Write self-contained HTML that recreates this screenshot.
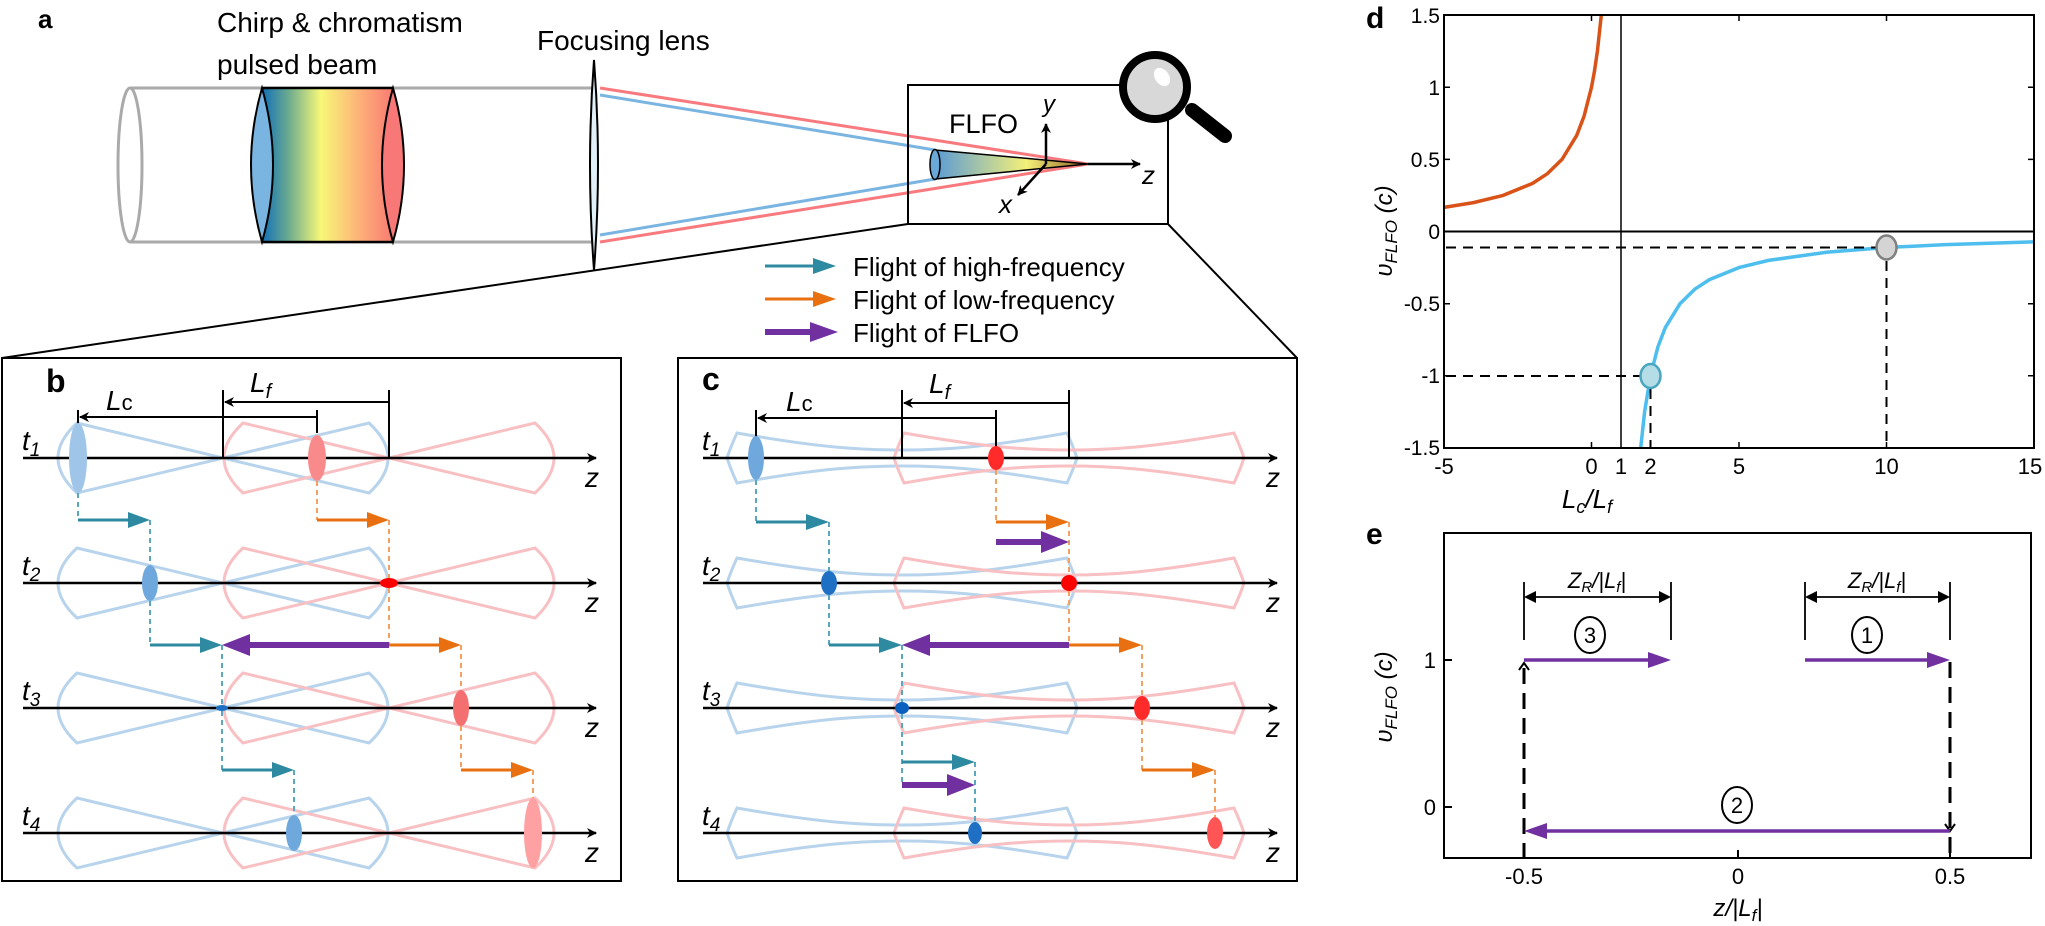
<!DOCTYPE html>
<html><head><meta charset="utf-8"><style>
html,body{margin:0;padding:0;background:#fff}
svg{display:block}
text{font-family:"Liberation Sans",sans-serif}
</style></head><body>
<svg width="2045" height="926" viewBox="0 0 2045 926" xmlns="http://www.w3.org/2000/svg">
<defs>
<linearGradient id="rb" x1="0" x2="1" y1="0" y2="0">
<stop offset="0" stop-color="#1070b8"/><stop offset="0.2" stop-color="#6aaa90"/><stop offset="0.45" stop-color="#f8f878"/><stop offset="0.75" stop-color="#fcb078"/><stop offset="1" stop-color="#fa7a72"/></linearGradient>
<linearGradient id="cone" x1="0" x2="1"><stop offset="0" stop-color="#5b9bd5"/><stop offset="0.6" stop-color="#f4f078"/><stop offset="1" stop-color="#8a5a20"/></linearGradient>
<marker id="mk" markerWidth="10" markerHeight="10" refX="9" refY="5" orient="auto" markerUnits="userSpaceOnUse"><path d="M0,0 L10,5 L0,10 L3,5Z" fill="#000"/></marker>
<g id="bb"><path d="M-146,-35 L0,0 L146,-35 Q184,0 146,35 L0,0 L-146,35 Q-184,0 -146,-35Z" fill="none" stroke-width="3"/></g>
<g id="cb"><path d="M-165,-25 C-80,-10 -40,-8 0,-8 C40,-8 80,-10 165,-25 Q171,-12 175,0 Q171,12 165,25 C80,10 40,8 0,8 C-40,8 -80,10 -165,25 Q-171,12 -175,0 Q-171,-12 -165,-25Z" fill="none" stroke-width="3"/></g>
</defs>

<!-- PANEL A -->
<text x="38" y="28" font-size="26" font-weight="bold">a</text>
<text x="217" y="32" font-size="28">Chirp &amp; chromatism</text>
<text x="217" y="74" font-size="28">pulsed beam</text>
<text x="537" y="50" font-size="28">Focusing lens</text>
<line x1="130" y1="88" x2="594" y2="88" stroke="#aaa" stroke-width="3"/>
<line x1="130" y1="242" x2="594" y2="242" stroke="#aaa" stroke-width="3"/>
<ellipse cx="130" cy="165" rx="12" ry="77" fill="none" stroke="#aaa" stroke-width="3"/>
<rect x="262" y="88" width="131" height="154" fill="url(#rb)"/>
<path d="M262,88 Q240,165 262,242 Q284,165 262,88Z" fill="#7ab4e0" stroke="#000" stroke-width="2"/>
<path d="M393,88 Q415,165 393,242 Q371,165 393,88Z" fill="#f87878" stroke="#000" stroke-width="2"/>
<line x1="262" y1="88" x2="393" y2="88" stroke="#000" stroke-width="2.5"/>
<line x1="262" y1="242" x2="393" y2="242" stroke="#000" stroke-width="2.5"/>
<path d="M594,60 Q602,165 594,270 Q586,165 594,60Z" fill="#dff0f8" stroke="#000" stroke-width="2"/>
<line x1="600" y1="88" x2="1088" y2="164" stroke="#f87a7e" stroke-width="3"/>
<line x1="600" y1="242" x2="1088" y2="164" stroke="#f87a7e" stroke-width="3"/>
<line x1="600" y1="95" x2="935" y2="150" stroke="#7ab4e0" stroke-width="3"/>
<line x1="600" y1="235" x2="935" y2="179" stroke="#7ab4e0" stroke-width="3"/>
<rect x="908" y="85" width="260" height="139" fill="none" stroke="#000" stroke-width="2"/>
<path d="M935,150 L1088,164 L935,179Z" fill="url(#cone)" stroke="#000" stroke-width="1.5"/>
<ellipse cx="935" cy="164.5" rx="5" ry="15" fill="#6aa8d8" stroke="#000" stroke-width="1.5"/>
<text x="949" y="133" font-size="27">FLFO</text>
<line x1="1046" y1="164" x2="1046" y2="124" stroke="#000" stroke-width="2.5" marker-end="url(#mk)"/>
<text x="1043" y="112" font-size="24" font-style="italic">y</text>
<line x1="1088" y1="164" x2="1140" y2="164" stroke="#000" stroke-width="2.5" marker-end="url(#mk)"/>
<text x="1142" y="184" font-size="26" font-style="italic">z</text>
<line x1="1046" y1="164" x2="1018" y2="195" stroke="#000" stroke-width="2.5" marker-end="url(#mk)"/>
<text x="999" y="213" font-size="26" font-style="italic">x</text>
<line x1="1192" y1="110" x2="1225" y2="136" stroke="#000" stroke-width="14" stroke-linecap="round"/>
<circle cx="1155" cy="87" r="32" fill="#d8d8d8" stroke="#000" stroke-width="8"/>
<ellipse cx="1162" cy="77" rx="7" ry="10" fill="#fff" transform="rotate(-35 1162 77)"/>
<line x1="908" y1="224" x2="2" y2="358" stroke="#000" stroke-width="2"/>
<line x1="1168" y1="224" x2="1297" y2="358" stroke="#000" stroke-width="2"/>
<!-- legend -->
<line x1="765" y1="266" x2="815" y2="266" stroke="#2e8aa0" stroke-width="3"/><path d="M813,258 L836,266 L813,274Z" fill="#2e8aa0"/>
<text x="853" y="276" font-size="26">Flight of high-frequency</text>
<line x1="765" y1="299" x2="815" y2="299" stroke="#e87010" stroke-width="3"/><path d="M813,291 L836,299 L813,307Z" fill="#e87010"/>
<text x="853" y="309" font-size="26">Flight of low-frequency</text>
<line x1="765" y1="332" x2="813" y2="332" stroke="#7030a0" stroke-width="6"/><path d="M810,322 L838,332 L810,342Z" fill="#7030a0"/>
<text x="853" y="342" font-size="26">Flight of FLFO</text>

<!-- PANEL B -->
<rect x="2" y="358" width="619" height="523" fill="none" stroke="#000" stroke-width="2"/>
<text x="46" y="392" font-size="32" font-weight="bold">b</text>
<g transform="translate(0,458)"><use href="#bb" x="223" stroke="#b8d4ec"/><use href="#bb" x="389" stroke="#f8c0c2"/></g>
<g transform="translate(0,583)"><use href="#bb" x="223" stroke="#b8d4ec"/><use href="#bb" x="389" stroke="#f8c0c2"/></g>
<g transform="translate(0,708)"><use href="#bb" x="223" stroke="#b8d4ec"/><use href="#bb" x="389" stroke="#f8c0c2"/></g>
<g transform="translate(0,833)"><use href="#bb" x="223" stroke="#b8d4ec"/><use href="#bb" x="389" stroke="#f8c0c2"/></g>
<g stroke="#000" stroke-width="2.5">
<line x1="23" y1="458" x2="596" y2="458" marker-end="url(#mk)"/>
<line x1="23" y1="583" x2="596" y2="583" marker-end="url(#mk)"/>
<line x1="23" y1="708" x2="596" y2="708" marker-end="url(#mk)"/>
<line x1="23" y1="833" x2="596" y2="833" marker-end="url(#mk)"/>
</g>
<g font-size="28" font-style="italic">
<text x="22" y="450">t<tspan font-size="19" dy="6">1</tspan></text>
<text x="22" y="575">t<tspan font-size="19" dy="6">2</tspan></text>
<text x="22" y="700">t<tspan font-size="19" dy="6">3</tspan></text>
<text x="22" y="825">t<tspan font-size="19" dy="6">4</tspan></text>
<text x="585" y="487">z</text><text x="585" y="612">z</text><text x="585" y="737">z</text><text x="585" y="862">z</text>
</g>
<g stroke="#000" stroke-width="2">
<line x1="78" y1="410" x2="78" y2="425"/><line x1="317" y1="410" x2="317" y2="433"/>
<line x1="317" y1="417" x2="80" y2="417" marker-end="url(#mk)"/>
<line x1="223" y1="390" x2="223" y2="458"/><line x1="389" y1="390" x2="389" y2="458"/>
<line x1="389" y1="402" x2="225" y2="402" marker-end="url(#mk)"/>
</g>
<text x="106" y="410" font-size="28" font-style="italic">L<tspan font-style="normal" font-size="22">c</tspan></text>
<text x="250" y="392" font-size="28" font-style="italic">L<tspan font-size="20" dy="6">f</tspan></text>
<ellipse cx="78" cy="458" rx="9" ry="35" fill="#9fc5e8"/><ellipse cx="317" cy="458" rx="9" ry="23" fill="#f88a8c"/>
<ellipse cx="150" cy="583" rx="8" ry="18" fill="#6fa8dc"/><ellipse cx="389" cy="583" rx="9" ry="5" fill="#ff0000"/>
<ellipse cx="222" cy="708" rx="6" ry="3" fill="#1a6fc4"/><ellipse cx="461" cy="708" rx="8" ry="18" fill="#f46f6f"/>
<ellipse cx="294" cy="833" rx="8" ry="18" fill="#6fa8dc"/><ellipse cx="533" cy="833" rx="9" ry="35" fill="#ffa0a2"/>
<g stroke-width="2" stroke-dasharray="5,4" fill="none">
<path d="M78,493 V520 M150,520 V565 M150,601 V645 M222,645 V705 M222,711 V770 M294,770 V815" stroke="#5aa8c0"/>
<path d="M317,481 V520 M389,520 V578 M389,588 V645 M461,645 V690 M461,726 V770 M533,770 V798" stroke="#f4a060"/>
</g>
<g stroke-width="3">
<line x1="78" y1="520" x2="130" y2="520" stroke="#2e8aa0"/><line x1="150" y1="645" x2="202" y2="645" stroke="#2e8aa0"/><line x1="222" y1="770" x2="274" y2="770" stroke="#2e8aa0"/>
<line x1="317" y1="520" x2="369" y2="520" stroke="#e87010"/><line x1="389" y1="645" x2="441" y2="645" stroke="#e87010"/><line x1="461" y1="770" x2="513" y2="770" stroke="#e87010"/>
</g>
<g fill="#2e8aa0"><path d="M128,512 L150,520 L128,528Z"/><path d="M200,637 L222,645 L200,653Z"/><path d="M272,762 L294,770 L272,778Z"/></g>
<g fill="#e87010"><path d="M367,512 L389,520 L367,528Z"/><path d="M439,637 L461,645 L439,653Z"/><path d="M511,762 L533,770 L511,778Z"/></g>
<line x1="389" y1="645" x2="246" y2="645" stroke="#7030a0" stroke-width="6"/><path d="M250,634 L222,645 L250,656Z" fill="#7030a0"/>

<!-- PANEL C -->
<rect x="678" y="358" width="619" height="523" fill="none" stroke="#000" stroke-width="2"/>
<text x="702" y="390" font-size="32" font-weight="bold">c</text>
<g transform="translate(0,458)"><use href="#cb" x="902" stroke="#b8d4ec"/><use href="#cb" x="1069" stroke="#f8c0c2"/></g>
<g transform="translate(0,583)"><use href="#cb" x="902" stroke="#b8d4ec"/><use href="#cb" x="1069" stroke="#f8c0c2"/></g>
<g transform="translate(0,708)"><use href="#cb" x="902" stroke="#b8d4ec"/><use href="#cb" x="1069" stroke="#f8c0c2"/></g>
<g transform="translate(0,833)"><use href="#cb" x="902" stroke="#b8d4ec"/><use href="#cb" x="1069" stroke="#f8c0c2"/></g>
<g stroke="#000" stroke-width="2.5">
<line x1="703" y1="458" x2="1277" y2="458" marker-end="url(#mk)"/>
<line x1="703" y1="583" x2="1277" y2="583" marker-end="url(#mk)"/>
<line x1="703" y1="708" x2="1277" y2="708" marker-end="url(#mk)"/>
<line x1="703" y1="833" x2="1277" y2="833" marker-end="url(#mk)"/>
</g>
<g font-size="28" font-style="italic">
<text x="702" y="450">t<tspan font-size="19" dy="6">1</tspan></text>
<text x="702" y="575">t<tspan font-size="19" dy="6">2</tspan></text>
<text x="702" y="700">t<tspan font-size="19" dy="6">3</tspan></text>
<text x="702" y="825">t<tspan font-size="19" dy="6">4</tspan></text>
<text x="1266" y="487">z</text><text x="1266" y="612">z</text><text x="1266" y="737">z</text><text x="1266" y="862">z</text>
</g>
<g stroke="#000" stroke-width="2">
<line x1="756" y1="410" x2="756" y2="440"/><line x1="996" y1="410" x2="996" y2="450"/>
<line x1="996" y1="418" x2="758" y2="418" marker-end="url(#mk)"/>
<line x1="902" y1="390" x2="902" y2="458"/><line x1="1069" y1="390" x2="1069" y2="458"/>
<line x1="1069" y1="403" x2="904" y2="403" marker-end="url(#mk)"/>
</g>
<text x="786" y="411" font-size="28" font-style="italic">L<tspan font-style="normal" font-size="22">c</tspan></text>
<text x="929" y="393" font-size="28" font-style="italic">L<tspan font-size="20" dy="6">f</tspan></text>
<ellipse cx="756" cy="458" rx="8" ry="22" fill="#6fa8dc"/><ellipse cx="996" cy="458" rx="8" ry="12" fill="#ff2a2a"/>
<ellipse cx="829" cy="583" rx="8" ry="12" fill="#1f6fc4"/><ellipse cx="1069" cy="583" rx="8" ry="8" fill="#ff0000"/>
<ellipse cx="902" cy="708" rx="7" ry="6" fill="#0b5fbf"/><ellipse cx="1142" cy="708" rx="8" ry="12" fill="#ff2a2a"/>
<ellipse cx="975" cy="833" rx="7" ry="11" fill="#1f6fc4"/><ellipse cx="1215" cy="833" rx="8" ry="16" fill="#ff5555"/>
<g stroke-width="2" stroke-dasharray="5,4" fill="none">
<path d="M756,480 V522 M829,522 V571 M829,595 V645 M902,645 V702 M902,714 V785 M975,762 V822" stroke="#5aa8c0"/>
<path d="M996,470 V522 M1069,522 V575 M1069,591 V645 M1142,645 V696 M1142,720 V770 M1215,770 V817" stroke="#f4a060"/>
</g>
<g stroke-width="3">
<line x1="756" y1="522" x2="808" y2="522" stroke="#2e8aa0"/><line x1="829" y1="645" x2="881" y2="645" stroke="#2e8aa0"/><line x1="902" y1="762" x2="954" y2="762" stroke="#2e8aa0"/>
<line x1="996" y1="522" x2="1047" y2="522" stroke="#e87010"/><line x1="1069" y1="645" x2="1120" y2="645" stroke="#e87010"/><line x1="1142" y1="770" x2="1193" y2="770" stroke="#e87010"/>
</g>
<g fill="#2e8aa0"><path d="M806,514 L829,522 L806,530Z"/><path d="M879,637 L902,645 L879,653Z"/><path d="M952,754 L975,762 L952,770Z"/></g>
<g fill="#e87010"><path d="M1046,514 L1069,522 L1046,530Z"/><path d="M1119,637 L1142,645 L1119,653Z"/><path d="M1192,762 L1215,770 L1192,778Z"/></g>
<g fill="#7030a0">
<line x1="996" y1="542" x2="1045" y2="542" stroke="#7030a0" stroke-width="6"/><path d="M1041,531 L1069,542 L1041,553Z"/>
<line x1="1069" y1="645" x2="926" y2="645" stroke="#7030a0" stroke-width="6"/><path d="M930,634 L902,645 L930,656Z"/>
<line x1="902" y1="785" x2="951" y2="785" stroke="#7030a0" stroke-width="6"/><path d="M947,774 L975,785 L947,796Z"/>
</g>

<!-- PANEL D -->
<text x="1366" y="28" font-size="30" font-weight="bold">d</text>
<polyline fill="none" stroke="#d95319" stroke-width="3.5" points="1444,207.4 1473.5,202.6 1503,195.4 1532.5,183.4 1547.25,173.8 1562,159.4 1576.75,135.3 1584.1,116.1 1591.5,87.2 1594.45,71.2 1597.4,51.1 1601.3,15"/>
<polyline fill="none" stroke="#4dbeee" stroke-width="3.5" points="1640.7,448 1644.6,411.9 1650.5,375.8 1657.9,346.9 1665.25,327.7 1680,303.7 1694.75,289.2 1709.5,279.6 1739,267.6 1768.5,260.4 1827.5,252.1 1886.5,247.5 1945.5,244.6 2034,241.8"/>
<line x1="1621" y1="15" x2="1621" y2="448" stroke="#000" stroke-width="1.5"/>
<line x1="1444" y1="231.5" x2="2034" y2="231.5" stroke="#000" stroke-width="2"/>
<g stroke="#000" stroke-width="2" stroke-dasharray="10,7">
<line x1="1446" y1="376" x2="1640" y2="376"/><line x1="1446" y1="247.5" x2="1876" y2="247.5"/>
<line x1="1650.5" y1="389" x2="1650.5" y2="448"/><line x1="1886.5" y1="261" x2="1886.5" y2="448"/>
</g>
<ellipse cx="1650.5" cy="376" rx="10" ry="12" fill="#b4dde8" stroke="#4aa6be" stroke-width="2.5"/>
<ellipse cx="1886.5" cy="247.5" rx="10" ry="12" fill="#d4d4d4" stroke="#808080" stroke-width="2.5"/>
<rect x="1444" y="15" width="590" height="433" fill="none" stroke="#000" stroke-width="2"/>
<g stroke="#000" stroke-width="1.5">
<path d="M1591.5,15 v6 M1739,15 v6 M1886.5,15 v6 M1591.5,448 v-6 M1739,448 v-6 M1886.5,448 v-6 M1444,87.2 h6 M1444,159.4 h6 M1444,303.7 h6 M1444,375.8 h6 M2034,87.2 h-6 M2034,159.4 h-6 M2034,303.7 h-6 M2034,375.8 h-6"/>
</g>
<g font-size="21" text-anchor="end">
<text x="1440" y="23">1.5</text><text x="1440" y="95">1</text><text x="1440" y="167">0.5</text><text x="1440" y="239">0</text><text x="1440" y="311">-0.5</text><text x="1440" y="383">-1</text><text x="1440" y="455">-1.5</text>
</g>
<g font-size="22" text-anchor="middle">
<text x="1444" y="474">-5</text><text x="1591.5" y="474">0</text><text x="1621" y="474">1</text><text x="1650.5" y="474">2</text><text x="1739" y="474">5</text><text x="1886.5" y="474">10</text><text x="2030" y="474">15</text>
</g>
<text x="1587" y="508" font-size="26" font-style="italic" text-anchor="middle">L<tspan font-size="18" dy="5">c</tspan><tspan dy="-5">/L</tspan><tspan font-size="18" dy="5">f</tspan></text>
<text transform="translate(1392,231) rotate(-90)" font-size="24" text-anchor="middle" font-style="italic">υ<tspan font-size="17" dy="5">FLFO</tspan><tspan dy="-5"> (c)</tspan></text>

<!-- PANEL E -->
<text x="1366" y="544" font-size="30" font-weight="bold">e</text>
<rect x="1444" y="533" width="587" height="325" fill="none" stroke="#000" stroke-width="2"/>
<g stroke="#000" stroke-width="2"><path d="M1444,660 h8 M1444,807 h8 M1524,858 v-8 M1738,858 v-8 M1950,858 v-8"/></g>
<g font-size="22" text-anchor="end"><text x="1436" y="668">1</text><text x="1436" y="815">0</text></g>
<g font-size="22" text-anchor="middle"><text x="1524" y="884">-0.5</text><text x="1738" y="884">0</text><text x="1950" y="884">0.5</text></g>
<text x="1738" y="916" font-size="24" font-style="italic" text-anchor="middle">z/|L<tspan font-size="17" dy="5">f</tspan><tspan dy="-5">|</tspan></text>
<text transform="translate(1392,697) rotate(-90)" font-size="24" text-anchor="middle" font-style="italic">υ<tspan font-size="17" dy="5">FLFO</tspan><tspan dy="-5"> (c)</tspan></text>
<g stroke="#000" stroke-width="3" stroke-dasharray="16,9">
<line x1="1524" y1="668" x2="1524" y2="858"/><line x1="1950" y1="662" x2="1950" y2="858"/>
</g>
<path d="M1519,670 L1524,663 L1529,670" fill="none" stroke="#000" stroke-width="2"/>
<path d="M1945,824 L1950,831 L1955,824" fill="none" stroke="#000" stroke-width="2"/>
<g stroke="#000" stroke-width="1.8">
<line x1="1524" y1="582" x2="1524" y2="640"/><line x1="1671" y1="582" x2="1671" y2="640"/>
<line x1="1805" y1="582" x2="1805" y2="640"/><line x1="1950" y1="582" x2="1950" y2="640"/>
<line x1="1534" y1="597" x2="1661" y2="597"/><line x1="1815" y1="597" x2="1940" y2="597"/>
</g>
<g fill="#000"><path d="M1524,597 L1536,591 L1536,603Z"/><path d="M1671,597 L1659,591 L1659,603Z"/><path d="M1805,597 L1817,591 L1817,603Z"/><path d="M1950,597 L1938,591 L1938,603Z"/></g>
<g font-size="22" font-style="italic" text-anchor="middle">
<text x="1597" y="588">Z<tspan font-size="15" dy="4">R</tspan><tspan dy="-4">/|L</tspan><tspan font-size="15" dy="4">f</tspan><tspan dy="-4">|</tspan></text>
<text x="1877" y="588">Z<tspan font-size="15" dy="4">R</tspan><tspan dy="-4">/|L</tspan><tspan font-size="15" dy="4">f</tspan><tspan dy="-4">|</tspan></text>
</g>
<g fill="none" stroke="#000" stroke-width="2"><ellipse cx="1590" cy="635" rx="15" ry="18"/><ellipse cx="1867" cy="635" rx="15" ry="18"/><ellipse cx="1737" cy="805" rx="15" ry="18"/></g>
<g font-size="22" text-anchor="middle"><text x="1590" y="643">3</text><text x="1867" y="643">1</text><text x="1737" y="813">2</text></g>
<g stroke="#7030a0" stroke-width="3.5">
<line x1="1524" y1="660" x2="1652" y2="660"/><line x1="1805" y1="660" x2="1931" y2="660"/><line x1="1950" y1="831" x2="1543" y2="831"/>
</g>
<g fill="#7030a0"><path d="M1648,652 L1671,660 L1648,668Z"/><path d="M1927,652 L1950,660 L1927,668Z"/><path d="M1547,823 L1524,831 L1547,839Z"/></g>
</svg>
</body></html>
